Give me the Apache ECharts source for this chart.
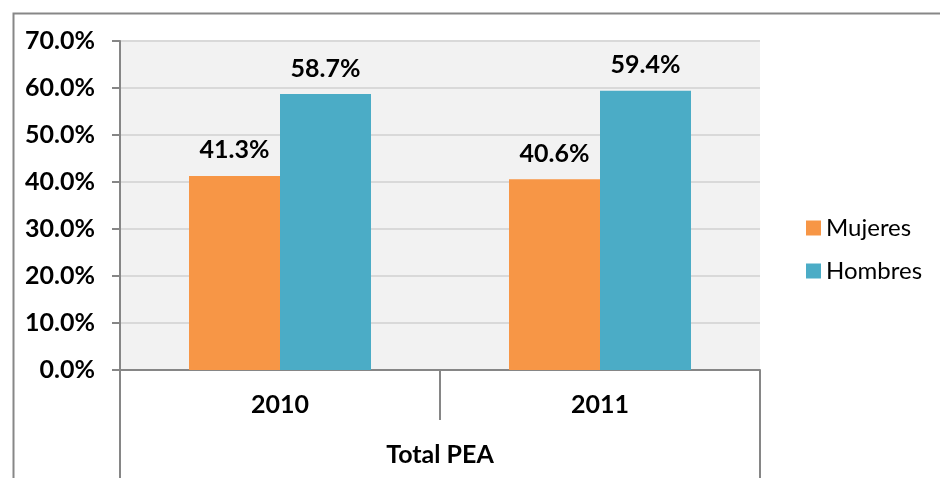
<!DOCTYPE html>
<html><head><meta charset="utf-8">
<script src="https://cdn.jsdelivr.net/npm/echarts@6/dist/echarts.min.js"></script>
<style>html,body{margin:0;padding:0;background:#fff}#c{width:940px;height:478px}</style>
</head><body><div id="c"></div>
<script>
const categories = ['2010', '2011'];
const groupLabel = ['Total PEA'];
const mujeres = [41.3, 40.6];
const hombres = [58.7, 59.4];
const seriesNames = ['Mujeres', 'Hombres'];

const FONT = 'Lato';
const FS = 25;
const chart = echarts.init(document.getElementById('c'));
chart.setOption({
  animation: false,
  textStyle: {fontFamily: FONT},
  graphic: [{
    type: 'rect', left: 11, top: 11, shape: {x: 0, y: 0, width: 960, height: 500},
    style: {fill: 'none', stroke: '#878787', lineWidth: 2}, silent: true, z: -1
  }],
  grid: {left: 120, right: 180, top: 41, bottom: 108, show: true, backgroundColor: '#f2f2f2', borderWidth: 0},
  legend: {
    orient: 'vertical', left: 801, top: 211, itemWidth: 15, itemHeight: 15, itemGap: 19,
    icon: 'rect', textStyle: {fontFamily: FONT, fontSize: 24, color: '#000'},
    data: seriesNames
  },
  xAxis: [{
    type: 'category', data: categories, position: 'bottom',
    axisLine: {show: true, lineStyle: {color: '#868686', width: 2}},
    axisTick: {show: true, length: 50, lineStyle: {color: '#868686', width: 2}},
    axisLabel: {margin: 22, fontFamily: FONT, fontSize: FS, fontWeight: 'bold', color: '#000'}
  }, {
    type: 'category', data: groupLabel, position: 'bottom',
    axisLine: {show: false},
    axisTick: {show: true, length: 110, lineStyle: {color: '#868686', width: 2}},
    axisLabel: {margin: 72, fontFamily: FONT, fontSize: FS, fontWeight: 'bold', color: '#000'}
  }],
  yAxis: {
    type: 'value', min: 0, max: 70, interval: 10,
    axisLine: {show: true, lineStyle: {color: '#868686', width: 2}},
    axisTick: {show: true, length: 8, lineStyle: {color: '#868686', width: 2}},
    splitLine: {show: true, lineStyle: {color: '#d9d9d9', width: 2}},
    axisLabel: {margin: 25, fontFamily: FONT, fontSize: FS, fontWeight: 'bold', color: '#000',
      formatter: v => v.toFixed(1) + '%'}
  },
  series: [{
    name: seriesNames[0], type: 'bar', data: mujeres, barWidth: 91, barGap: '0%',
    itemStyle: {color: '#F79646'},
    label: {show: true, position: 'top', distance: 13, fontFamily: FONT, fontSize: FS, fontWeight: 'bold', color: '#000',
      formatter: p => p.value.toFixed(1) + '%'}
  }, {
    name: seriesNames[1], type: 'bar', data: hombres, barWidth: 91, barGap: '0%',
    itemStyle: {color: '#4BACC6'},
    label: {show: true, position: 'top', distance: 13, fontFamily: FONT, fontSize: FS, fontWeight: 'bold', color: '#000',
      formatter: p => p.value.toFixed(1) + '%'}
  }]
});
</script></body></html>
